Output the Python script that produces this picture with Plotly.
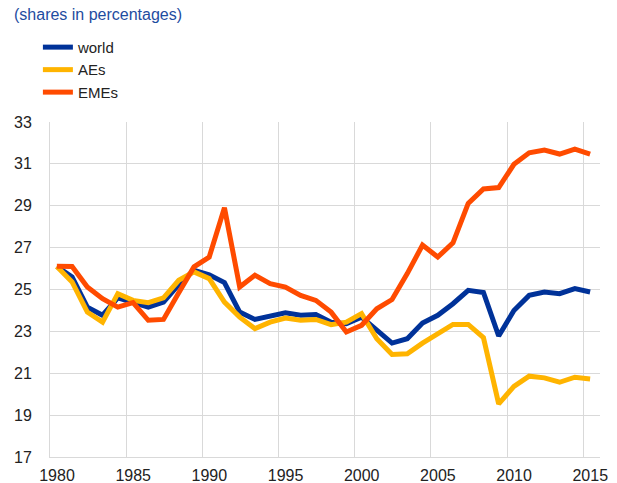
import plotly.graph_objects as go

years = list(range(1980, 2016))
world = [26.1, 25.6, 24.16, 23.77, 24.6, 24.37, 24.16, 24.4, 25.23, 25.92,
         25.7, 25.33, 23.92, 23.57, 23.73, 23.89, 23.77, 23.8, 23.44, 23.37,
         23.68, 23.05, 22.44, 22.65, 23.4, 23.77, 24.32, 24.96, 24.86, 22.78,
         24.0, 24.72, 24.88, 24.8, 25.04, 24.88]
aes = [26.1, 25.36, 23.92, 23.44, 24.8, 24.48, 24.37, 24.6, 25.44, 25.84,
       25.52, 24.4, 23.68, 23.13, 23.44, 23.64, 23.53, 23.57, 23.32, 23.44,
       23.85, 22.65, 21.9, 21.93, 22.44, 22.89, 23.33, 23.33, 22.7, 19.54,
       20.37, 20.86, 20.78, 20.57, 20.81, 20.73]
emes = [26.11, 26.1, 25.12, 24.56, 24.16, 24.37, 23.53, 23.57, 24.85, 26.08,
        26.55, 28.9, 25.12, 25.68, 25.28, 25.12, 24.72, 24.48, 23.92, 22.97,
        23.29, 24.08, 24.52, 25.76, 27.12, 26.55, 27.23, 29.11, 29.8, 29.87,
        30.98, 31.53, 31.66, 31.47, 31.71, 31.47]
series_names = ["world", "AEs", "EMEs"]
colors = ["#003299", "#FFB400", "#FF4B00"]
x_ticks = [1980, 1985, 1990, 1995, 2000, 2005, 2010, 2015]
y_ticks = [17, 19, 21, 23, 25, 27, 29, 31, 33]

xpos = [y + 0.45 for y in years]

fig = go.Figure()
for name, vals, col in zip(series_names, [world, aes, emes], colors):
    fig.add_trace(go.Scatter(x=xpos, y=vals, name=name, mode="lines",
                             line=dict(color=col, width=5)))

fig.update_layout(
    width=617, height=483,
    margin=dict(l=50, r=17, t=122, b=26),
    paper_bgcolor="white", plot_bgcolor="white",
    font=dict(family="Liberation Sans, Arial", size=16, color="#222222"),
    showlegend=True,
    legend=dict(x=-0.022, y=1.272, xanchor="left", yanchor="top",
                font=dict(size=15, color="#222222"), itemwidth=30,
                bgcolor="rgba(0,0,0,0)", tracegroupgap=0),
    xaxis=dict(range=[1980, 2016.1], tickvals=x_ticks,
               ticktext=[str(v) for v in x_ticks],
               showgrid=True, gridcolor="#d9d9d9", gridwidth=1,
               showline=True, linecolor="#d9d9d9", linewidth=1,
               ticks="", zeroline=False, ticklabelshift=7,
               ticklabelstandoff=4, tickfont=dict(size=16), automargin=False),
    yaxis=dict(range=[17, 33], tickvals=y_ticks,
               showgrid=True, gridcolor="#d9d9d9", gridwidth=1,
               showline=True, linecolor="#d9d9d9", linewidth=1,
               ticks="", zeroline=False, ticklabelstandoff=14,
               tickfont=dict(size=16), automargin=False),
    annotations=[dict(text="(shares in percentages)", xref="paper", yref="paper",
                      x=-38/550, y=1.0 + (122 - 14) / 335, xanchor="left",
                      yanchor="middle", showarrow=False,
                      font=dict(size=16, color="#1E4CA0"))],
)

fig.write_html("out.html", config={"displayModeBar": False},
               post_script="document.body.style.margin='0';")
